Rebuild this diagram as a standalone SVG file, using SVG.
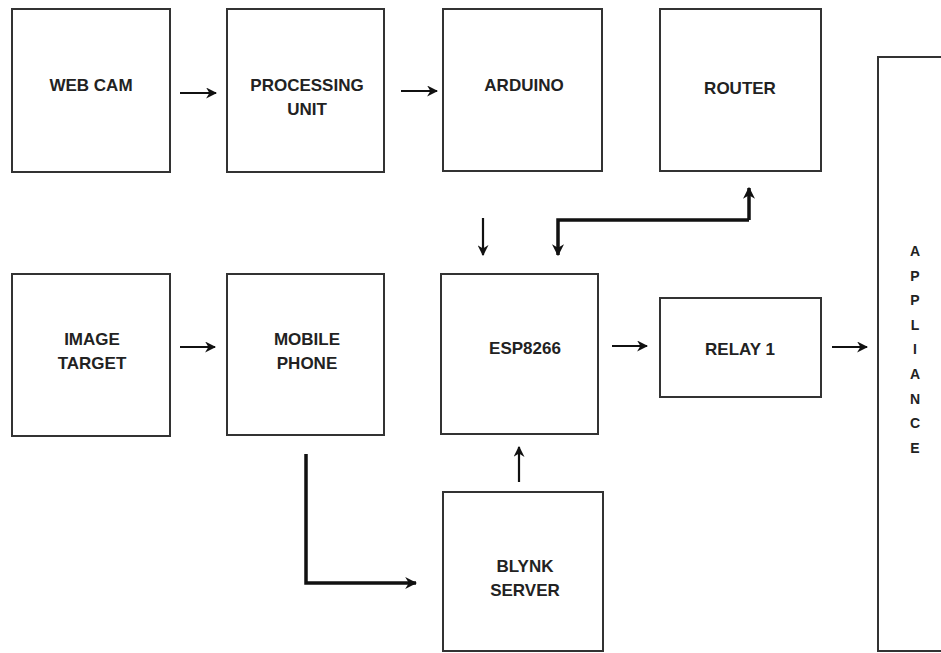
<svg xmlns="http://www.w3.org/2000/svg" width="941" height="653" viewBox="0 0 941 653">
<defs>
<marker id="ah" viewBox="0 0 10 10" refX="9" refY="5" markerWidth="11" markerHeight="11" markerUnits="userSpaceOnUse" orient="auto">
<path d="M0,0 L10,5 L0,10 L3,5 z" fill="#111"/>
</marker>
<marker id="ahb" viewBox="0 0 10 10" refX="9" refY="5" markerWidth="12" markerHeight="12" markerUnits="userSpaceOnUse" orient="auto">
<path d="M0,0 L10,5 L0,10 L3,5 z" fill="#111"/>
</marker>
<style>
.box{fill:#fff;stroke:#333;stroke-width:2}
.t{font-family:"Liberation Sans",Arial,sans-serif;font-weight:bold;font-size:17px;fill:#222;text-anchor:middle}
.ta{font-family:"Liberation Sans",Arial,sans-serif;font-weight:bold;font-size:14px;fill:#222;text-anchor:middle}
.c{fill:none;stroke:#111;stroke-width:2.2;marker-end:url(#ah)}
.cb{fill:none;stroke:#111;stroke-width:3.5;marker-end:url(#ahb)}
</style>
</defs>
<rect width="941" height="653" fill="#fff"/>
<g id="webcam"><rect class="box" x="12" y="9" width="158" height="163"/><text class="t" x="91" y="91">WEB CAM</text></g>
<g id="processing"><rect class="box" x="227" y="9" width="157" height="163"/><text class="t" x="307" y="91">PROCESSING</text><text class="t" x="307" y="115">UNIT</text></g>
<g id="arduino"><rect class="box" x="443" y="9" width="159" height="162"/><text class="t" x="524" y="91">ARDUINO</text></g>
<g id="router"><rect class="box" x="660" y="9" width="161" height="162"/><text class="t" x="740" y="94">ROUTER</text></g>
<g id="imagetarget"><rect class="box" x="12" y="274" width="158" height="162"/><text class="t" x="92" y="345">IMAGE</text><text class="t" x="92" y="369">TARGET</text></g>
<g id="mobile"><rect class="box" x="227" y="274" width="157" height="161"/><text class="t" x="307" y="345">MOBILE</text><text class="t" x="307" y="369">PHONE</text></g>
<g id="esp"><rect class="box" x="441" y="274" width="157" height="160"/><text class="t" x="525" y="354">ESP8266</text></g>
<g id="relay"><rect class="box" x="660" y="298" width="161" height="99"/><text class="t" x="740" y="355">RELAY 1</text></g>
<g id="blynk"><rect class="box" x="443" y="492" width="160" height="159"/><text class="t" x="525" y="572">BLYNK</text><text class="t" x="525" y="596">SERVER</text></g>
<g id="appliance"><rect class="box" x="878" y="57" width="70" height="594"/>
<text class="ta" x="915" y="256">A</text><text class="ta" x="915" y="280.6">P</text><text class="ta" x="915" y="305.2">P</text><text class="ta" x="915" y="329.8">L</text><text class="ta" x="915" y="354.4">I</text><text class="ta" x="915" y="379">A</text><text class="ta" x="915" y="403.6">N</text><text class="ta" x="915" y="428.2">C</text><text class="ta" x="915" y="452.8">E</text></g>
<g id="connectors">
<path class="c" d="M180,93 H216"/>
<path class="c" d="M401,91 H437"/>
<path class="c" d="M180,347 H215"/>
<path class="c" d="M612,346 H647"/>
<path class="c" d="M832,347 H867"/>
<path class="c" d="M483,218 V255"/>
<path class="c" d="M519,482 V447"/>
<path class="cb" d="M749,220 V188"/>
<path class="cb" d="M749,220 H558 V255"/>
<path class="cb" d="M306,454 V583 H416"/>
</g>
</svg>
